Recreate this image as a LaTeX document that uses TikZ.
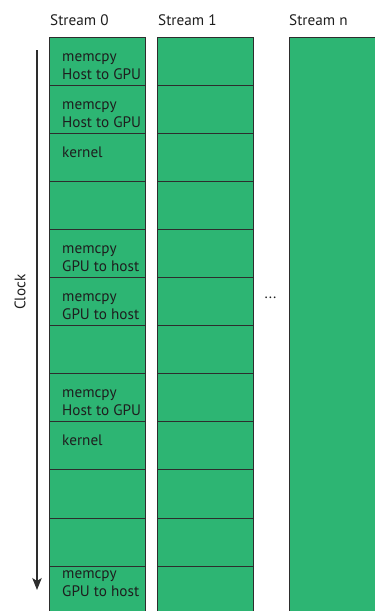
\documentclass[tikz,border=0pt]{standalone}
\usepackage{fontspec}
\setmainfont{PT Sans}
\usetikzlibrary{arrows.meta}
\definecolor{cellgreen}{RGB}{45,181,115}
\definecolor{edgegray}{RGB}{45,45,45}
\definecolor{inktext}{RGB}{30,30,30}
\begin{document}
\begin{tikzpicture}[x=1pt,y=-1pt,
  cell/.style={draw=edgegray, fill=cellgreen, line width=0.9pt, minimum width=96pt, minimum height=48.1pt, inner sep=0pt, outer sep=0pt, anchor=north west},
  lbl/.style={font=\fontsize{15.2}{17}\selectfont, text=inktext, inner sep=0pt, anchor=base west},
  head/.style={font=\fontsize{15.2}{17}\selectfont, text=inktext, inner sep=0pt, anchor=base west}]
\useasboundingbox (0,0) rectangle (375,611);
\clip (0,0) rectangle (375,611);
% headers
\node[head] (h0) at (50,25.5) {Stream 0};
\node[head] (h1) at (158,25.5) {Stream 1};
\node[head] (hn) at (289,25.5) {Stream n};
% columns of cells
\foreach \k in {0,...,11} {
  \node[cell] (a\k) at (49,37+48.1*\k) {};
  \node[cell] (b\k) at (157,37+48.1*\k) {};
}
% stream n column
\node[cell, minimum width=100pt, minimum height=600pt] (cn) at (289,37) {};
% labels stream 0
\node[lbl] (l0a) at (62,37+24) {memcpy};
\node[lbl] (l0b) at (62,37+42) {Host to GPU};
\node[lbl] (l1a) at (62,85.1+24) {memcpy};
\node[lbl] (l1b) at (62,85.1+42) {Host to GPU};
\node[lbl] (l2a) at (62,133.2+24) {kernel};
\node[lbl] (l4a) at (62,229.4+24) {memcpy};
\node[lbl] (l4b) at (62,229.4+42) {GPU to host};
\node[lbl] (l5a) at (62,277.5+24) {memcpy};
\node[lbl] (l5b) at (62,277.5+42) {GPU to host};
\node[lbl] (l7a) at (62,373.7+24) {memcpy};
\node[lbl] (l7b) at (62,373.7+42) {Host to GPU};
\node[lbl] (l8a) at (62,421.8+24) {kernel};
\node[lbl] (l11a) at (62,566.1+12) {memcpy};
\node[lbl] (l11b) at (62,566.1+30) {GPU to host};
% dots
\node[font=\fontsize{15.2}{17}\selectfont, text=inktext, inner sep=0pt] (dots) at (270.5,298) {...};
% clock arrow
\coordinate (ctop) at (37,50);
\coordinate (cbot) at (37,590);
\draw[edgegray, line width=1.1pt, -{Stealth[length=12pt, width=9.5pt, inset=3pt]}] (ctop) -- (cbot);
\node[font=\fontsize{15.2}{17}\selectfont, text=inktext, rotate=90, inner sep=0pt] (clock) at (20,292) {Clock};
\end{tikzpicture}
\end{document}
